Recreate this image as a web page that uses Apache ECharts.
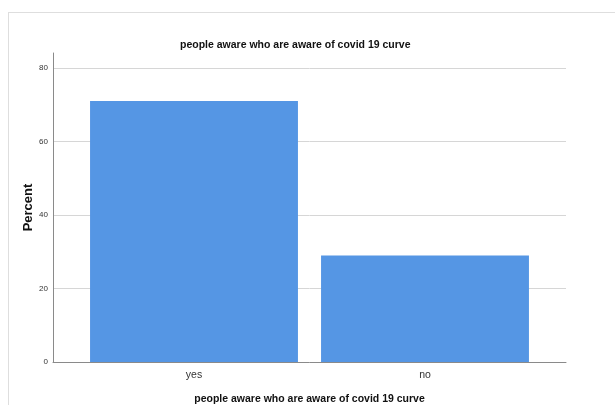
<!DOCTYPE html>
<html>
<head>
<meta charset="utf-8">
<script src="https://cdn.jsdelivr.net/npm/echarts@6/dist/echarts.min.js"></script>
<style>
html,body{margin:0;padding:0;background:#fff;}
#wrap{position:relative;width:615px;height:405px;}
#frame{position:absolute;left:8px;top:12px;right:0;bottom:0;border-left:1px solid #dedede;border-top:1px solid #dedede;pointer-events:none;}
#chart{position:absolute;left:0;top:0;width:615px;height:405px;}
</style>
</head>
<body>
<div id="wrap"><div id="chart"></div><div id="frame"></div></div>
<script>
const titleText = 'people aware who are aware of covid 19 curve';
const categories = ['yes', 'no'];
const percentValues = [71, 29];
const yTicks = [0, 20, 40, 60, 80];
const yAxisName = 'Percent';
const xAxisName = 'people aware who are aware of covid 19 curve';

const FONT = 'Arial, "Liberation Sans", sans-serif';
const chart = echarts.init(document.getElementById('chart'), null, {renderer: 'canvas'});
const yMin = yTicks[0], yMax = yTicks[yTicks.length - 1], yStep = yTicks[1] - yTicks[0];
const gridBase = {containLabel: false, outerBoundsMode: 'none'};

chart.setOption({
  animation: false,
  backgroundColor: '#fff',
  title: {
    text: titleText, left: 175, top: 35,
    textStyle: {fontFamily: FONT, fontSize: 10.5, fontWeight: 'bold', color: '#111'}
  },
  grid: [
    Object.assign({left: 53, right: 49, top: 53, bottom: 43}, gridBase),
    Object.assign({left: 53, right: 49, top: 68, bottom: 43}, gridBase),
    Object.assign({left: 78.5, right: 74.5, top: 68, bottom: 43}, gridBase)
  ],
  xAxis: [
    {gridIndex: 0, type: 'category', data: categories, show: false},
    {gridIndex: 1, type: 'category', data: categories,
     axisLine: {show: true, lineStyle: {color: '#8a8a8a', width: 1}},
     axisTick: {show: false}, axisLabel: {show: false}},
    {gridIndex: 2, type: 'category', data: categories,
     axisLine: {show: false}, axisTick: {show: false},
     axisLabel: {fontFamily: FONT, fontSize: 10.5, color: '#333', margin: 8},
     name: xAxisName, nameLocation: 'middle', nameGap: 32,
     nameTextStyle: {fontFamily: FONT, fontSize: 10.5, fontWeight: 'bold', color: '#111'}}
  ],
  yAxis: [
    {gridIndex: 0, type: 'value', min: 0, max: 84.1,
     axisLine: {show: true, lineStyle: {color: '#8a8a8a', width: 1}},
     axisTick: {show: false}, axisLabel: {show: false}, splitLine: {show: false},
     name: yAxisName, nameLocation: 'middle', nameRotate: 90, nameGap: 18,
     nameTextStyle: {fontFamily: FONT, fontSize: 13, fontWeight: 'bold', color: '#111'}},
    {gridIndex: 1, type: 'value', min: yMin, max: yMax, interval: yStep,
     axisLine: {show: false}, axisTick: {show: false},
     axisLabel: {fontFamily: FONT, fontSize: 8, color: '#333', margin: 5},
     splitLine: {show: true, lineStyle: {color: '#d6d6d6', width: 1}}},
    {gridIndex: 2, type: 'value', min: yMin, max: yMax, show: false}
  ],
  series: [{
    type: 'bar', xAxisIndex: 2, yAxisIndex: 2,
    data: percentValues,
    barCategoryGap: '10%',
    itemStyle: {color: '#5596e4'}
  }]
});
</script>
</body>
</html>
